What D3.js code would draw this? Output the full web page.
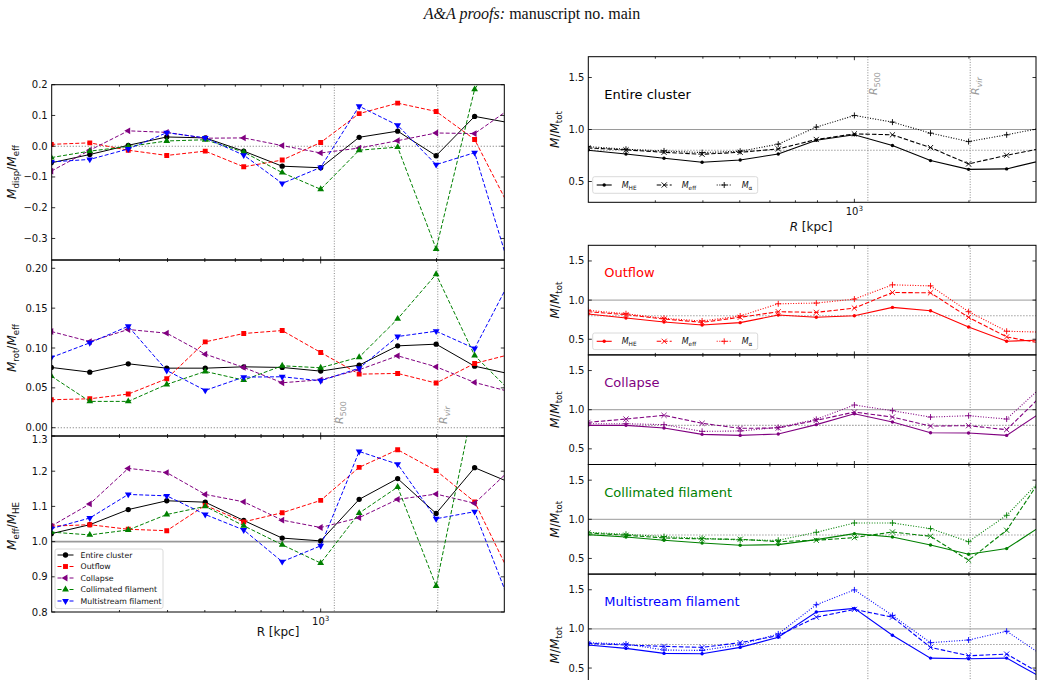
<!DOCTYPE html>
<html><head><meta charset="utf-8">
<script src="https://cdn.jsdelivr.net/npm/d3@7"></script>
<style>body{margin:0;background:#fff} svg text{font-family:"DejaVu Sans",sans-serif}</style>
</head><body><svg id="c" width="1043" height="680"></svg>
<script>
// ---------- data ----------
const radii = [199.5, 251.2, 316.2, 398.1, 501.2, 631.0, 794.3, 1000, 1258.9, 1584.9, 1995.3, 2511.9, 3162.3];
const R500 = 1085, RVIR = 2015;
const seriesNames = ["Entire cluster", "Outflow", "Collapse", "Collimated filament", "Multistream filament"];
const seriesColors = ["#000000", "#ff0000", "#800080", "#008000", "#0000ff"];

// M_disp / M_eff
const dispEntire      = [-0.054,-0.027,0.003,0.030,0.027,-0.016,-0.065,-0.070,0.029,0.049,-0.031,0.097,0.074];
const dispOutflow     = [0.006,0.011,-0.013,-0.030,-0.016,-0.067,-0.045,0.012,0.106,0.140,0.113,0.022,-0.222];
const dispCollapse    = [-0.081,-0.013,0.050,0.045,0.026,0.027,0.002,-0.022,-0.006,0.018,0.043,0.041,0.129];
const dispCollimated  = [-0.037,-0.016,-0.001,0.017,0.021,-0.019,-0.086,-0.140,-0.013,-0.003,-0.334,0.185,0.38];
const dispMultistream = [-0.051,-0.043,-0.009,0.044,0.027,-0.029,-0.121,-0.069,0.130,0.068,-0.060,-0.021,-0.434];
// M_rot / M_eff
const rotEntire      = [0.0756,0.0697,0.0802,0.0747,0.0747,0.0764,0.0756,0.0710,0.0785,0.1027,0.1048,0.0772,0.0666];
const rotOutflow     = [0.0351,0.0363,0.0422,0.0614,0.1077,0.1182,0.1219,0.0944,0.0672,0.0681,0.0560,0.0806,0.0929];
const rotCollapse    = [0.1207,0.1081,0.1232,0.1186,0.0923,0.0756,0.0564,0.0601,0.0727,0.0902,0.0764,0.0568,0.044];
const rotCollimated  = [0.0647,0.0330,0.0330,0.0543,0.0706,0.0597,0.0777,0.0752,0.0885,0.1365,0.1925,0.0906,0.0424];
const rotMultistream = [0.0881,0.1065,0.1273,0.0718,0.0468,0.0635,0.0639,0.0589,0.0747,0.1144,0.1211,0.0994,0.192];
// M_eff / M_HE
const ratioEntire      = [1.0225,1.048,1.091,1.116,1.112,1.060,1.010,1.002,1.120,1.179,1.080,1.210,1.164];
const ratioOutflow     = [1.044,1.048,1.035,1.031,1.103,1.056,1.082,1.117,1.211,1.261,1.2015,1.113,0.889];
const ratioCollapse    = [1.044,1.107,1.208,1.196,1.134,1.113,1.061,1.040,1.068,1.120,1.135,1.109,1.212];
const ratioCollimated  = [1.027,1.019,1.033,1.077,1.100,1.045,0.991,0.939,1.081,1.155,0.874,1.407,1.68];
const ratioMultistream = [1.037,1.067,1.134,1.130,1.077,1.033,0.943,0.988,1.256,1.220,1.065,1.085,0.802];

// M / M_tot (right column)
const heEntire    = [0.800,0.765,0.723,0.685,0.707,0.765,0.897,0.949,0.846,0.701,0.617,0.621,0.709];
const effEntire   = [0.823,0.804,0.781,0.762,0.781,0.813,0.904,0.958,0.949,0.826,0.669,0.752,0.824];
const alphaEntire = [0.836,0.810,0.794,0.778,0.791,0.859,1.023,1.135,1.071,0.965,0.884,0.949,1.02];
const heOutflow    = [0.822,0.771,0.720,0.682,0.712,0.809,0.780,0.801,0.907,0.864,0.657,0.475,0.491];
const effOutflow   = [0.852,0.814,0.758,0.716,0.780,0.852,0.843,0.898,1.097,1.093,0.780,0.530,0.441];
const alphaOutflow = [0.869,0.826,0.767,0.733,0.797,0.953,0.962,1.013,1.195,1.182,0.852,0.602,0.59];
const heCollapse    = [0.800,0.800,0.766,0.685,0.672,0.689,0.809,0.949,0.843,0.706,0.702,0.672,0.996];
const effCollapse   = [0.838,0.881,0.928,0.826,0.762,0.766,0.864,0.970,0.906,0.791,0.796,0.745,1.218];
const alphaCollapse = [0.821,0.821,0.809,0.723,0.728,0.774,0.877,1.060,0.987,0.906,0.923,0.881,1.327];
const heCollimated    = [0.804,0.774,0.732,0.698,0.668,0.677,0.740,0.817,0.774,0.672,0.553,0.626,0.943];
const effCollimated   = [0.826,0.796,0.762,0.749,0.745,0.715,0.732,0.766,0.838,0.783,0.477,0.860,1.585];
const alphaCollimated = [0.834,0.809,0.779,0.757,0.736,0.732,0.834,0.953,0.953,0.881,0.715,1.051,1.553];
const heMultistream    = [0.794,0.751,0.687,0.682,0.764,0.893,1.215,1.262,0.918,0.627,0.618,0.627,0.357];
const effMultistream   = [0.815,0.794,0.777,0.764,0.824,0.914,1.150,1.249,1.150,0.764,0.657,0.678,0.398];
const alphaMultistream = [0.824,0.807,0.730,0.725,0.798,0.936,1.309,1.498,1.172,0.824,0.858,0.970,0.644];

const ticksDisp  = [-0.3,-0.2,-0.1,0.0,0.1,0.2];
const ticksRot   = [0.00,0.05,0.10,0.15,0.20];
const ticksRatio = [0.8,0.9,1.0,1.1,1.2,1.3];
const ticksMass  = [0.5,1.0,1.5];
const xMinorTicks = [300,400,500,600,700,800,900,2000];
const xMajorTicks = [1000];

// ---------- helpers ----------
const svg = d3.select("#c");
let clipId = 0;
function rich(t, parts, size) {
  let shift = 0;
  parts.forEach(p => {
    const target = p.sub ? size*0.28 : (p.sup ? -size*0.42 : 0);
    const ts = t.append("tspan").text(p.t).attr("dy", target - shift);
    shift = target;
    if (p.sub || p.sup) ts.attr("font-size", size*0.72);
    if (p.it) ts.attr("font-style", "italic");
  });
}
const fmtMinus = s => s.replace("-", "\u2212");

function makePanel(o) {
  const x = d3.scaleLog().domain([200, 3000]).range([o.x0, o.x1]);
  const y = d3.scaleLinear().domain(o.dom).range([o.y1, o.y0]);
  const g = svg.append("g");
  const id = "clip" + (clipId++);
  svg.append("clipPath").attr("id", id).append("rect")
    .attr("x", o.x0).attr("y", o.y0).attr("width", o.x1 - o.x0).attr("height", o.y1 - o.y0);
  const inner = g.append("g").attr("clip-path", `url(#${id})`);
  return {x, y, g, inner, o};
}
function frame(p, yticks, fmt, nudge) {
  const {x, y, g, o} = p;
  g.append("rect").attr("x", o.x0).attr("y", o.y0).attr("width", o.x1 - o.x0).attr("height", o.y1 - o.y0)
    .attr("fill", "none").attr("stroke", "#000").attr("stroke-width", 1);
  const tk = g.append("g").attr("stroke", "#000").attr("stroke-width", 0.8);
  xMinorTicks.forEach(v => {
    tk.append("line").attr("x1", x(v)).attr("x2", x(v)).attr("y1", o.y1).attr("y2", o.y1 - 2);
    tk.append("line").attr("x1", x(v)).attr("x2", x(v)).attr("y1", o.y0).attr("y2", o.y0 + 2);
  });
  xMajorTicks.forEach(v => {
    tk.append("line").attr("x1", x(v)).attr("x2", x(v)).attr("y1", o.y1).attr("y2", o.y1 - 3.5);
    tk.append("line").attr("x1", x(v)).attr("x2", x(v)).attr("y1", o.y0).attr("y2", o.y0 + 3.5);
  });
  yticks.forEach(v => {
    tk.append("line").attr("x1", o.x0).attr("x2", o.x0 + 3.5).attr("y1", y(v)).attr("y2", y(v));
    tk.append("line").attr("x1", o.x1).attr("x2", o.x1 - 3.5).attr("y1", y(v)).attr("y2", y(v));
    let dy = 0;
    if (nudge && Math.abs(y(v) - o.y1) < 1) dy = nudge.bottom || 0;
    if (nudge && Math.abs(y(v) - o.y0) < 1) dy = nudge.top || 0;
    g.append("text").attr("x", o.x0 - 4).attr("y", y(v) + dy).attr("text-anchor", "end")
      .attr("dominant-baseline", "central").attr("font-size", 10).attr("fill", "#111").text(fmtMinus(fmt(v)));
  });
}
function vlines(p) {
  [R500, RVIR].forEach(v => {
    p.inner.append("line").attr("x1", p.x(v)).attr("x2", p.x(v)).attr("y1", p.o.y0).attr("y2", p.o.y1)
      .attr("stroke", "#888").attr("stroke-width", 1).attr("stroke-dasharray", "1,1.6");
  });
}
function hline(p, v, style) {
  const l = p.inner.append("line").attr("x1", p.o.x0).attr("x2", p.o.x1).attr("y1", p.y(v)).attr("y2", p.y(v));
  if (style === "dot") l.attr("stroke", "#888").attr("stroke-width", 1.1).attr("stroke-dasharray", "1.2,1.8");
  else if (style === "thick") l.attr("stroke", "#9a9a9a").attr("stroke-width", 1.6);
  else l.attr("stroke", "#9a9a9a").attr("stroke-width", 1);
}
const symCircle = d3.symbol().type(d3.symbolCircle).size(22)();
const symSquare = d3.symbol().type(d3.symbolSquare).size(24)();
const symTri = d3.symbol().type(d3.symbolTriangle).size(20)();
const markerDefs = [
  {path: symCircle, rot: 0}, {path: symSquare, rot: 0}, {path: symTri, rot: -90},
  {path: symTri, rot: 0}, {path: symTri, rot: 180}
];
function drawMarker(g, i, cx, cy, color) {
  g.append("path").attr("d", markerDefs[i].path)
    .attr("transform", `translate(${cx},${cy}) rotate(${markerDefs[i].rot})`).attr("fill", color);
}
function leftSeries(p, arrays) {
  arrays.forEach((arr, i) => {
    const pts = radii.map((r, k) => [r, arr[k]]);
    const line = d3.line().x(d => p.x(d[0])).y(d => p.y(d[1]));
    const path = p.inner.append("path").attr("d", line(pts)).attr("fill", "none")
      .attr("stroke", seriesColors[i]).attr("stroke-width", 1);
    if (i > 0) path.attr("stroke-dasharray", "4,2");
    pts.forEach(d => drawMarker(p.inner, i, p.x(d[0]), p.y(d[1]), seriesColors[i]));
  });
}
function massMarker(g, kind, cx, cy, color) {
  if (kind === 0) g.append("circle").attr("cx", cx).attr("cy", cy).attr("r", 1.7).attr("fill", color);
  else if (kind === 1) g.append("path").attr("d", `M${cx-2.6},${cy-2.6}L${cx+2.6},${cy+2.6}M${cx-2.6},${cy+2.6}L${cx+2.6},${cy-2.6}`)
    .attr("stroke", color).attr("stroke-width", 0.9);
  else g.append("path").attr("d", `M${cx-3},${cy}L${cx+3},${cy}M${cx},${cy-3}L${cx},${cy+3}`)
    .attr("stroke", color).attr("stroke-width", 0.9);
}
const massDash = [null, "4.5,2", "1,1.6"];
function rightSeries(p, arrays, color) {
  arrays.forEach((arr, i) => {
    const pts = radii.map((r, k) => [r, arr[k]]);
    const line = d3.line().x(d => p.x(d[0])).y(d => p.y(d[1]));
    const path = p.inner.append("path").attr("d", line(pts)).attr("fill", "none")
      .attr("stroke", color).attr("stroke-width", 1.1);
    if (massDash[i]) path.attr("stroke-dasharray", massDash[i]);
    pts.forEach(d => massMarker(p.inner, i, p.x(d[0]), p.y(d[1]), color));
  });
}
function massLegend(p, yTop, color) {
  const g = p.g;
  const x0 = p.o.x0 + 4.4;
  g.append("rect").attr("x", x0).attr("y", yTop).attr("width", 165).attr("height", 16.6).attr("rx", 2)
    .attr("fill", "#fff").attr("fill-opacity", 0.85).attr("stroke", "#d0d0d0").attr("stroke-width", 0.8);
  const cy = yTop + 8.3;
  const labels = [[{t:"M",it:1},{t:"HE",sub:1}], [{t:"M",it:1},{t:"eff",sub:1}], [{t:"M",it:1},{t:"\u03b1",sub:1}]];
  labels.forEach((lab, i) => {
    const lx = x0 + 4 + i * 60;
    const l = g.append("line").attr("x1", lx).attr("x2", lx + 15).attr("y1", cy).attr("y2", cy)
      .attr("stroke", color).attr("stroke-width", 1.1);
    if (massDash[i]) l.attr("stroke-dasharray", massDash[i]);
    massMarker(g, i, lx + 7.5, cy, color);
    const t = g.append("text").attr("x", lx + 25).attr("y", cy + 2.8).attr("font-size", 8).attr("fill", "#111");
    rich(t, lab, 8);
  });
}
function yLabel(x, y, parts, size) {
  const t = svg.append("text").attr("transform", `translate(${x},${y}) rotate(-90)`)
    .attr("text-anchor", "middle").attr("font-size", size).attr("fill", "#111");
  rich(t, parts, size);
}
function rLabel(x, y, sub) {
  const t = svg.append("text").attr("transform", `translate(${x},${y}) rotate(-90)`)
    .attr("font-size", 11).attr("fill", "#999");
  rich(t, [{t:"R", it:1}, {t:sub, sub:1, it: sub === "vir" ? 1 : 0}], 11);
}
function tenCubed(x, y) {
  const t = svg.append("text").attr("x", x).attr("y", y).attr("text-anchor", "middle").attr("font-size", 10).attr("fill", "#111");
  rich(t, [{t:"10"}, {t:"3", sup:1}], 10);
}

// ---------- title ----------
const title = svg.append("text").attr("x", 532).attr("y", 19).attr("text-anchor", "middle")
  .attr("font-size", 16).style("font-family", "'Liberation Serif', 'Times New Roman', serif").attr("fill", "#111");
title.append("tspan").attr("font-style", "italic").text("A&A proofs:");
title.append("tspan").text(" manuscript no. main");

// ---------- left column ----------
const LX0 = 51.7, LX1 = 504.3;
const pDisp = makePanel({x0: LX0, x1: LX1, y0: 84.7, y1: 260, dom: [-0.37, 0.2]});
const pRot = makePanel({x0: LX0, x1: LX1, y0: 260, y1: 436, dom: [-0.0104, 0.2104]});
const pRatio = makePanel({x0: LX0, x1: LX1, y0: 436, y1: 612, dom: [0.8, 1.3]});

[pDisp, pRot, pRatio].forEach(vlines);
hline(pDisp, 0, "dot");
hline(pRot, 0, "dot");
hline(pRatio, 1.0, "thick");
leftSeries(pDisp, [dispEntire, dispOutflow, dispCollapse, dispCollimated, dispMultistream]);
leftSeries(pRot, [rotEntire, rotOutflow, rotCollapse, rotCollimated, rotMultistream]);
leftSeries(pRatio, [ratioEntire, ratioOutflow, ratioCollapse, ratioCollimated, ratioMultistream]);
frame(pDisp, ticksDisp, d3.format(".1f"));
frame(pRot, ticksRot, d3.format(".2f"), {bottom: -3});
frame(pRatio, ticksRatio, d3.format(".1f"), {top: 3});
rLabel(pRot.x(R500) + 9, 424, "500");
rLabel(pRot.x(RVIR) + 9, 424, "vir");

yLabel(16, 172, [{t:"M",it:1},{t:"disp",sub:1},{t:"/"},{t:"M",it:1},{t:"eff",sub:1}], 12);
yLabel(16, 348, [{t:"M",it:1},{t:"rot",sub:1},{t:"/"},{t:"M",it:1},{t:"eff",sub:1}], 12);
yLabel(16, 526, [{t:"M",it:1},{t:"eff",sub:1},{t:"/"},{t:"M",it:1},{t:"HE",sub:1}], 12);
tenCubed(pRatio.x(1000), 625);
svg.append("text").attr("x", (LX0 + LX1) / 2).attr("y", 636).attr("text-anchor", "middle")
  .attr("font-size", 12).attr("fill", "#111").text("R [kpc]");

// left legend
const lg = svg.append("g");
lg.append("rect").attr("x", 55).attr("y", 549).attr("width", 108).attr("height", 59.5).attr("rx", 2)
  .attr("fill", "#fff").attr("fill-opacity", 0.85).attr("stroke", "#d0d0d0").attr("stroke-width", 0.8);
seriesNames.forEach((n, i) => {
  const cy = 555 + i * 11.5;
  const l = lg.append("line").attr("x1", 57.5).attr("x2", 73.5).attr("y1", cy).attr("y2", cy)
    .attr("stroke", seriesColors[i]).attr("stroke-width", 1);
  if (i > 0) l.attr("stroke-dasharray", "4,2");
  drawMarker(lg, i, 65.5, cy, seriesColors[i]);
  lg.append("text").attr("x", 80.5).attr("y", cy).attr("dominant-baseline", "central")
    .attr("font-size", 7.8).attr("fill", "#111").text(n);
});

// ---------- right column ----------
const RX0 = 588.3, RX1 = 1036;
const pE = makePanel({x0: RX0, x1: RX1, y0: 56.7, y1: 202.3, dom: [0.3, 1.7]});
const stackTop = 245.3, stackH = 109.6;
const stackPanels = [1, 2, 3, 4].map(k => makePanel({x0: RX0, x1: RX1,
  y0: stackTop + (k - 1) * stackH, y1: stackTop + k * stackH, dom: [0.3, 1.7]}));
const rightPanels = [pE].concat(stackPanels);
const massData = [
  [heEntire, effEntire, alphaEntire],
  [heOutflow, effOutflow, alphaOutflow],
  [heCollapse, effCollapse, alphaCollapse],
  [heCollimated, effCollimated, alphaCollimated],
  [heMultistream, effMultistream, alphaMultistream]
];
rightPanels.forEach((p, i) => {
  vlines(p);
  hline(p, 1.0, "solid");
  hline(p, 0.8, "dot");
  rightSeries(p, massData[i], seriesColors[i]);
  frame(p, ticksMass, d3.format(".1f"));
  p.g.append("text").attr("x", 604.3).attr("y", i === 0 ? 98.5 : p.o.y0 + 32)
    .attr("font-size", 13).attr("fill", seriesColors[i]).text(seriesNames[i]);
  yLabel(559, (p.o.y0 + Math.min(p.o.y1, 680)) / 2 + (i === 4 ? 18 : 0), [{t:"M",it:1},{t:"/"},{t:"M",it:1},{t:"tot",sub:1}], 12);
});
massLegend(pE, 176.7, seriesColors[0]);
massLegend(stackPanels[0], 333, seriesColors[1]);
rLabel(pE.x(R500) + 9, 95, "500");
rLabel(pE.x(RVIR) + 9, 95, "vir");
tenCubed(pE.x(1000), 215);
const rx = svg.append("text").attr("x", 811).attr("y", 231).attr("text-anchor", "middle")
  .attr("font-size", 12).attr("fill", "#111");
rich(rx, [{t:"R", it:1}, {t:" [kpc]"}], 12);
</script></body></html>
